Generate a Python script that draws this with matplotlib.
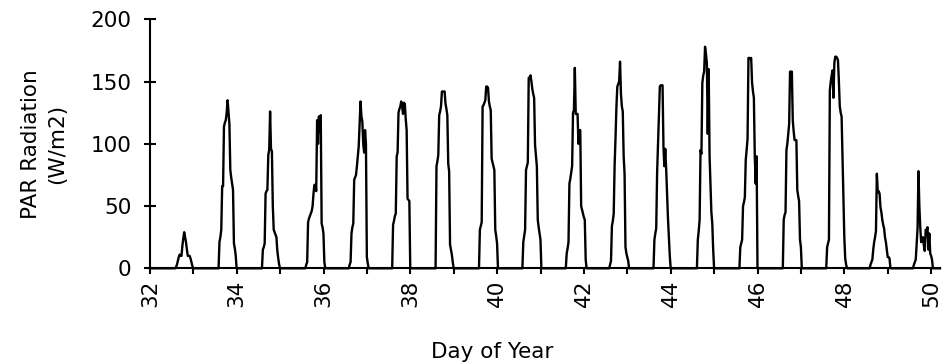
import matplotlib
matplotlib.use("Agg")
import matplotlib.pyplot as plt
from matplotlib.ticker import MultipleLocator

# Half-hourly PAR readings (W/m2), one list per day of year, starting one
# reading before sunrise and ending at the first zero after sunset
days = list(range(32, 50))
first_reading = 0.58  # fraction of the day of the first reading in each list
interval = 1 / 48     # logger interval: 30 min

par_d32 = [0, 1, 3, 6, 9, 11, 10, 10, 18, 24, 29, 25, 21, 15, 10, 10, 10, 8, 5, 2, 0]
par_d33 = [0, 21, 25, 31, 66, 66, 114, 117, 119, 125, 135, 125, 116, 79, 73, 68, 63, 20, 16, 10, 0]
par_d34 = [0, 15, 17, 20, 60, 62, 63, 91, 95, 126, 96, 94, 50, 31, 29, 27, 25, 14, 8, 3, 0]
par_d35 = [0, 3, 5, 37, 40, 42, 44, 46, 50, 60, 67, 67, 62, 119, 100, 122, 110, 123, 36, 33, 28, 5, 0]
par_d36 = [0, 3, 5, 28, 33, 36, 71, 73, 75, 82, 90, 98, 115, 134, 122, 118, 100, 93, 111, 100, 9, 4, 0]
par_d37 = [0, 35, 38, 42, 44, 90, 93, 125, 128, 130, 134, 130, 124, 133, 132, 120, 111, 56, 55, 54, 0]
par_d38 = [0, 82, 86, 91, 123, 126, 130, 142, 142, 142, 142, 132, 128, 123, 84, 78, 19, 15, 11, 5, 0]
par_d39 = [0, 31, 34, 37, 130, 131, 133, 135, 146, 146, 145, 134, 130, 127, 88, 85, 82, 79, 31, 26, 20, 0]
par_d40 = [0, 21, 26, 31, 79, 82, 85, 153, 153, 155, 150, 144, 140, 137, 99, 90, 82, 39, 33, 28, 23, 0]
par_d41 = [0, 12, 16, 21, 68, 72, 77, 82, 125, 127, 161, 124, 124, 124, 100, 111, 111, 50, 47, 44, 41, 39, 7, 0]
par_d42 = [0, 3, 6, 34, 38, 44, 83, 105, 130, 146, 148, 150, 166, 140, 130, 126, 90, 76, 17, 12, 9, 6, 0]
par_d43 = [0, 0, 23, 28, 32, 77, 100, 125, 146, 147, 147, 147, 98, 82, 96, 80, 60, 40, 25, 10, 0]
par_d44 = [0, 0, 23, 30, 39, 95, 92, 149, 155, 158, 178, 172, 165, 108, 160, 90, 68, 45, 36, 15, 0]
par_d45 = [0, 17, 20, 23, 50, 53, 57, 87, 95, 104, 169, 169, 168, 169, 149, 142, 137, 90, 68, 90, 0]
par_d46 = [0, 39, 43, 45, 95, 100, 108, 116, 158, 158, 158, 119, 110, 103, 103, 103, 63, 58, 54, 23, 17, 0]
par_d47 = [0, 17, 20, 23, 143, 150, 155, 159, 137, 165, 170, 170, 169, 167, 150, 130, 125, 122, 90, 55, 25, 8, 3, 0]
par_d48 = [0, 3, 5, 7, 15, 21, 25, 30, 76, 61, 62, 60, 49, 45, 39, 35, 32, 25, 21, 15, 9, 9, 8, 0]
par_d49 = [0, 3, 5, 7, 20, 32, 78, 50, 33, 21, 24, 25, 18, 14, 31, 30, 33, 15, 28, 12, 10, 7, 0]

daily = [par_d32, par_d33, par_d34, par_d35, par_d36, par_d37, par_d38, par_d39, par_d40,
         par_d41, par_d42, par_d43, par_d44, par_d45, par_d46, par_d47, par_d48, par_d49]

# Build one continuous time series; nights sit on zero
doy = [32.0]
par = [0.0]
for d, readings in zip(days, daily):
    for k, value in enumerate(readings):
        doy.append(d + first_reading + k * interval)
        par.append(value)
doy.append(50.2)
par.append(0.0)

fig = plt.figure(figsize=(9.48, 3.62), dpi=100)
ax = fig.add_axes([0.1582, 0.2588, 0.8333, 0.6878])

ax.plot(doy, par, color="black", linewidth=1.7, clip_on=False)

ax.set_xlim(32, 50.2)
ax.set_ylim(0, 200)
ax.xaxis.set_major_locator(MultipleLocator(2))
ax.xaxis.set_minor_locator(MultipleLocator(1))
ax.set_xticks(range(32, 51, 2))
ax.set_yticks([0, 50, 100, 150, 200])

for side in ["top", "right"]:
    ax.spines[side].set_visible(False)
for side in ["left", "bottom"]:
    ax.spines[side].set_linewidth(1.5)

ax.tick_params(axis="y", direction="inout", length=9, width=1.5, labelsize=15.5, pad=9)
ax.tick_params(axis="x", which="both", direction="out", length=4, width=1.5)
ax.tick_params(axis="x", labelsize=15.5, labelrotation=90, pad=4)

ax.set_ylabel("PAR Radiation\n(W/m2)", fontsize=15.5, linespacing=1.35)
ax.yaxis.set_label_coords(-0.105, 0.5)
ax.set_xlabel("Day of Year", fontsize=15.5)
ax.xaxis.set_label_coords(0.433, -0.295)

fig.savefig("out.png", dpi=100)
